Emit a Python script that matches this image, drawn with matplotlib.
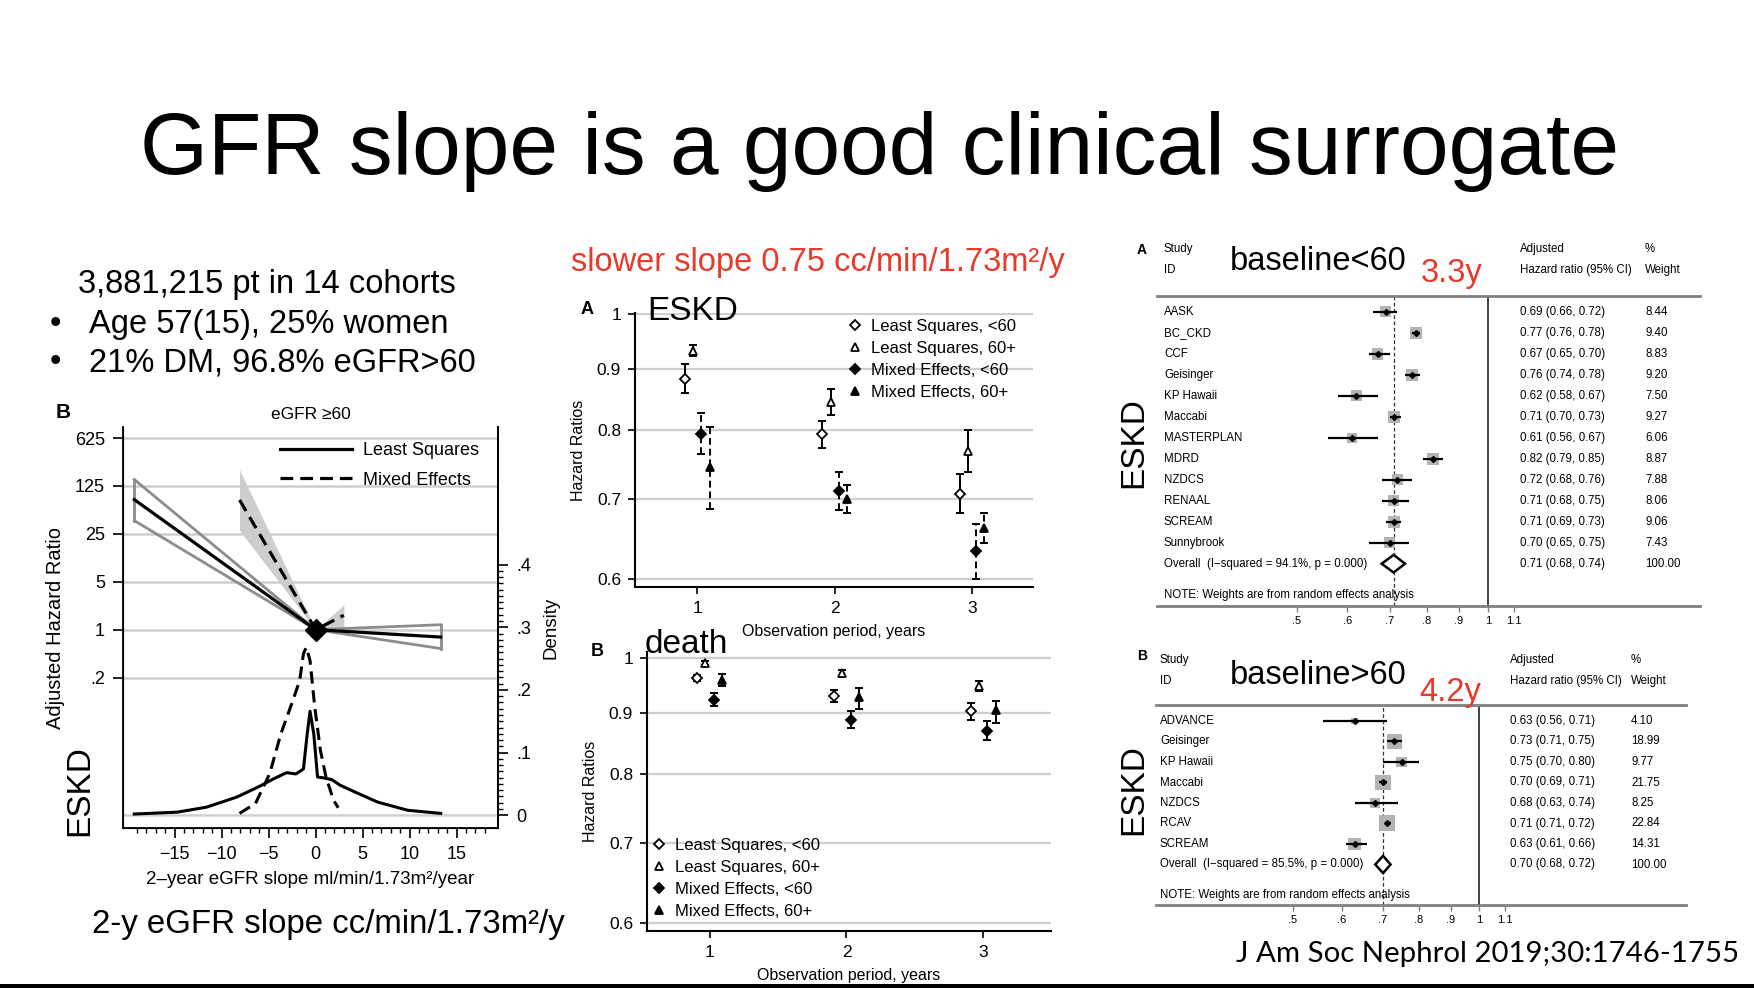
import numpy as np
import matplotlib
matplotlib.use('Agg')
import matplotlib.pyplot as plt
from matplotlib.transforms import blended_transform_factory
from matplotlib.ticker import NullLocator, FixedLocator
from matplotlib.lines import Line2D

plt.rcParams['font.family'] = ['Liberation Sans', 'DejaVu Sans']

W, H = 1754, 988

# ---- left panel: adjusted HR of ESKD by 2-year eGFR slope (eGFR >= 60)
slope_x = [-19.3, 0, 13.3]
ls_hr = [79, 1, 0.78]
ls_lo = [39, 1, 0.53]
ls_hi = [155, 1, 1.18]
me_x = [-8.1, 0, 3.0]
me_hr = [78, 1, 1.62]
me_lo = [28, 1, 1.0]
me_hi = [216, 1, 2.3]
dens_ls_x = [-19.3, -14.7, -11.6, -8.4, -6.0, -4.5, -3.1, -2.1, -1.3, -0.9, -0.6,
             -0.2, 0.2, 0.7, 1.7, 2.6, 4.2, 6.6, 9.8, 13.3]
dens_ls_y = [0.002, 0.005, 0.013, 0.029, 0.046, 0.058, 0.068, 0.066, 0.074, 0.13, 0.166,
             0.13, 0.061, 0.060, 0.057, 0.048, 0.037, 0.021, 0.008, 0.003]
dens_me_x = [-8.1, -6.4, -4.9, -3.7, -2.5, -1.7, -1.3, -1.0, -0.6, -0.1, 0.5, 1.1, 1.9, 2.4]
dens_me_y = [0.003, 0.019, 0.066, 0.13, 0.18, 0.215, 0.258, 0.268, 0.247, 0.173, 0.104,
             0.061, 0.024, 0.012]
hr_ticks = [0.2, 1, 5, 25, 125, 625]
hr_labels = ['.2', '1', '5', '25', '125', '625']
dens_ticks = [0, 0.1, 0.2, 0.3, 0.4]
dens_labels = ['0', '.1', '.2', '.3', '.4']
slope_ticks = [-15, -10, -5, 0, 5, 10, 15]

# ---- middle panels: hazard ratios by observation period
years = np.array([1, 2, 3])
groups = ['Least Squares, <60', 'Least Squares, 60+', 'Mixed Effects, <60', 'Mixed Effects, 60+']
eskd_hr = [[0.883, 0.794, 0.707], [0.932, 0.844, 0.768], [0.794, 0.711, 0.633], [0.745, 0.700, 0.662]]
eskd_lo = [[0.858, 0.773, 0.681], [0.923, 0.823, 0.738], [0.763, 0.685, 0.600], [0.687, 0.681, 0.643]]
eskd_hi = [[0.908, 0.814, 0.734], [0.942, 0.866, 0.800], [0.827, 0.738, 0.667], [0.805, 0.719, 0.681]]
death_hr = [[0.962, 0.929, 0.902], [0.990, 0.971, 0.947], [0.923, 0.888, 0.869], [0.958, 0.928, 0.904]]
death_lo = [[0.956, 0.918, 0.888], [0.987, 0.964, 0.938], [0.911, 0.874, 0.853], [0.947, 0.906, 0.882]]
death_hi = [[0.967, 0.940, 0.917], [0.994, 0.978, 0.956], [0.934, 0.902, 0.885], [0.969, 0.944, 0.920]]
hr_ticks_mid = [0.6, 0.7, 0.8, 0.9, 1]
hr_labels_mid = ['0.6', '0.7', '0.8', '0.9', '1']

# ---- right panels: forest plots
studies_a = ['AASK', 'BC_CKD', 'CCF', 'Geisinger', 'KP Hawaii', 'Maccabi', 'MASTERPLAN',
             'MDRD', 'NZDCS', 'RENAAL', 'SCREAM', 'Sunnybrook']
hr_a = [0.69, 0.77, 0.67, 0.76, 0.62, 0.71, 0.61, 0.82, 0.72, 0.71, 0.71, 0.70]
lo_a = [0.66, 0.76, 0.65, 0.74, 0.58, 0.70, 0.56, 0.79, 0.68, 0.68, 0.69, 0.65]
hi_a = [0.72, 0.78, 0.70, 0.78, 0.67, 0.73, 0.67, 0.85, 0.76, 0.75, 0.73, 0.75]
w_a = [8.44, 9.40, 8.83, 9.20, 7.50, 9.27, 6.06, 8.87, 7.88, 8.06, 9.06, 7.43]
overall_a = [0.71, 0.68, 0.74]
isq_a = 'Overall  (I\u2212squared = 94.1%, p = 0.000)'

studies_b = ['ADVANCE', 'Geisinger', 'KP Hawaii', 'Maccabi', 'NZDCS', 'RCAV', 'SCREAM']
hr_b = [0.63, 0.73, 0.75, 0.70, 0.68, 0.71, 0.63]
lo_b = [0.56, 0.71, 0.70, 0.69, 0.63, 0.71, 0.61]
hi_b = [0.71, 0.75, 0.80, 0.71, 0.74, 0.72, 0.66]
w_b = [4.10, 18.99, 9.77, 21.75, 8.25, 22.84, 14.31]
overall_b = [0.70, 0.68, 0.72]
isq_b = 'Overall  (I\u2212squared = 85.5%, p = 0.000)'
forest_ticks = [0.5, 0.6, 0.7, 0.8, 0.9, 1, 1.1]
forest_labels = ['.5', '.6', '.7', '.8', '.9', '1', '1.1']

RED = '#e8392b'
GRID = '#cfcfcf'

fig = plt.figure(figsize=(W / 100, H / 100), dpi=100)


def px_rect(x0, y0, x1, y1):
    return [x0 / W, 1 - y1 / H, (x1 - x0) / W, (y1 - y0) / H]


def ftxt(x, y, s, **kw):
    kw.setdefault('va', 'center')
    fig.text(x / W, 1 - y / H, s, **kw)


# ---------------- slide texts
ftxt(880, 152, 'GFR slope is a good clinical surrogate', fontsize=63, ha='center')
ftxt(78, 285, '3,881,215 pt in 14 cohorts', fontsize=23.5)
ftxt(50, 324, '\u2022', fontsize=23.5)
ftxt(89, 324, 'Age 57(15), 25% women', fontsize=23.5)
ftxt(50, 363, '\u2022', fontsize=23.5)
ftxt(89, 363, '21% DM, 96.8% eGFR>60', fontsize=23.5)
ftxt(571, 262, 'slower slope 0.75 cc/min/1.73m\u00b2/y', fontsize=23.5, color=RED)
ftxt(92, 924, '2-y eGFR slope cc/min/1.73m\u00b2/y', fontsize=23.8)
ftxt(1236, 954, 'J Am Soc Nephrol 2019;30:1746-1755', fontsize=21.2,
     family=['Lato', 'DejaVu Sans'])
fig.add_artist(plt.Rectangle((0, 0), 1, 4 / H, transform=fig.transFigure,
                             color='black', lw=0))

# ---------------- left panel B
axb = fig.add_axes(px_rect(123, 427, 498, 828))
axb.set_yscale('log')
axb.set_xlim(-20.5, 19.4)
axb.set_ylim(5 ** -4.14, 5 ** 4.23)
for t in hr_ticks:
    axb.axhline(t, color=GRID, lw=1.8, zorder=0)
axb.fill_between(me_x, me_lo, me_hi, color='#cdcdcd', lw=0, zorder=1)
axb.plot(slope_x, ls_hi, color='#8c8c8c', lw=2, zorder=2)
axb.plot(slope_x, ls_lo, color='#8c8c8c', lw=2, zorder=2)
axb.plot([slope_x[0]] * 2, [ls_lo[0], ls_hi[0]], color='#8c8c8c', lw=2, zorder=2)
axb.plot([slope_x[-1]] * 2, [ls_lo[-1], ls_hi[-1]], color='#8c8c8c', lw=2, zorder=2)
l1, = axb.plot(slope_x, ls_hr, color='black', lw=2.3, zorder=3, label='Least Squares')
l2, = axb.plot(me_x, me_hr, color='black', lw=2.3, ls=(0, (4, 2.2)), zorder=3,
               label='Mixed Effects')
axb.plot([0], [1], marker='D', ms=11, color='black', zorder=5)
axb.set_yticks(hr_ticks)
axb.set_yticklabels(hr_labels)
axb.yaxis.set_minor_locator(NullLocator())
axb.set_xticks(slope_ticks)
axb.set_xticklabels([str(v).replace('-', '\u2212') for v in slope_ticks])
axb.xaxis.set_minor_locator(FixedLocator(np.arange(-19, 19)))
axb.spines['top'].set_visible(False)
for s in ['left', 'bottom', 'right']:
    axb.spines[s].set_linewidth(1.3)
axb.tick_params(axis='both', which='major', labelsize=13, length=7, width=1.2, pad=6)
axb.tick_params(axis='x', which='minor', length=3.5, width=1)
axb.set_ylabel('Adjusted Hazard Ratio', fontsize=14.5, labelpad=7)
axb.set_xlabel('2\u2013year eGFR slope ml/min/1.73m\u00b2/year', fontsize=13.5, labelpad=6)
axb.set_title('eGFR \u226560', fontsize=12.5, pad=6)
axb.legend(handles=[l1, l2], loc='upper left', bbox_to_anchor=(280 / W, 1 - 442 / H),
           bbox_transform=fig.transFigure, frameon=False, fontsize=13,
           handlelength=4.0, handletextpad=0.6, labelspacing=0.7,
           borderpad=0, borderaxespad=0)

axd = axb.twinx()
axd.set_ylim(-0.0203, 0.6196)
axd.axhline(0, color=GRID, lw=1.8, zorder=0)
axd.plot(dens_ls_x, dens_ls_y, color='black', lw=2.2)
axd.plot(dens_me_x, dens_me_y, color='black', lw=2.2, ls=(0, (4, 2.2)))
axd.set_yticks(dens_ticks)
axd.set_yticklabels(dens_labels)
axd.yaxis.set_minor_locator(FixedLocator(np.arange(0, 0.41, 0.01)))
axd.spines['top'].set_visible(False)
axd.spines['right'].set_linewidth(1.3)
axd.tick_params(axis='y', which='major', labelsize=13, length=7, width=1.2, pad=6)
axd.tick_params(axis='y', which='minor', length=3.5, width=1)
axd.set_ylabel('Density', fontsize=13.5, labelpad=8)

ftxt(63, 413, 'B', fontsize=15, fontweight='bold', ha='center')
ftxt(80, 791, 'ESKD', fontsize=24, rotation=90, ha='center')

# ---------------- middle panels
offsets = [-0.09, -0.03, 0.03, 0.09]
markers = ['D', '^', 'D', '^']
filled = [False, False, True, True]
msizes = [5, 6, 5.5, 6]


def hr_panel(rect, ylim, xlim, hr, lo, hi, dash_me, leg_xy):
    ax = fig.add_axes(rect)
    ax.set_yscale('log')
    ax.set_ylim(*ylim)
    ax.set_xlim(*xlim)
    for t in hr_ticks_mid:
        ax.axhline(t, color=GRID, lw=1.6, zorder=0)
    handles = []
    for g in range(4):
        x = years + offsets[g]
        y = np.array(hr[g])
        err = [y - np.array(lo[g]), np.array(hi[g]) - y]
        eb = ax.errorbar(x, y, yerr=err, fmt='none', ecolor='black', elinewidth=1.4,
                         capsize=2.6, capthick=1.4, zorder=2)
        if dash_me and g >= 2:
            eb[2][0].set_linestyle((0, (3.5, 2)))
        fc = 'black' if filled[g] else 'white'
        ax.plot(x, y, ls='none', marker=markers[g], ms=msizes[g], mfc=fc, mec='black',
                mew=1.3, zorder=3)
        handles.append(Line2D([], [], ls='none', marker=markers[g], ms=msizes[g], mfc=fc,
                              mec='black', mew=1.3, label=groups[g]))
    ax.set_yticks(hr_ticks_mid)
    ax.set_yticklabels(hr_labels_mid)
    ax.yaxis.set_minor_locator(NullLocator())
    ax.set_xticks(years)
    ax.spines['top'].set_visible(False)
    ax.spines['right'].set_visible(False)
    for s in ['left', 'bottom']:
        ax.spines[s].set_linewidth(1.5)
    ax.tick_params(axis='both', labelsize=12.5, length=5, width=1.2, pad=5)
    ax.set_ylabel('Hazard Ratios', fontsize=11.5, labelpad=8)
    ax.set_xlabel('Observation period, years', fontsize=11.5, labelpad=6)
    ax.legend(handles=handles, loc='upper left', bbox_to_anchor=(leg_xy[0] / W, 1 - leg_xy[1] / H),
              bbox_transform=fig.transFigure, frameon=False, fontsize=12,
              handlelength=1.0, handletextpad=0.45, labelspacing=0.42,
              borderpad=0, borderaxespad=0)
    return ax


hr_panel(px_rect(635, 313, 1033, 587), (0.5908, 1.0019), (0.546, 3.444),
         eskd_hr, eskd_lo, eskd_hi, True, (847, 319))
hr_panel(px_rect(647, 652, 1051, 931), (0.5908, 1.0116), (0.543, 3.494),
         death_hr, death_lo, death_hi, False, (651, 838))
ftxt(587, 310, 'A', fontsize=13, fontweight='bold', ha='center')
ftxt(647, 311, 'ESKD', fontsize=24)
ftxt(597, 652, 'B', fontsize=13, fontweight='bold', ha='center')
ftxt(645, 644, 'death', fontsize=24)


# ---------------- forest plots
def forest(x0, x1, y0, y1, x_one, k, row0, step, names, hr, lo, hi, w, ov, ov_label,
           x_name, x_hr, x_w, max_side):
    ax = fig.add_axes(px_rect(x0, y0, x1, y1))
    ax.set_xscale('log')
    ax.set_xlim(np.exp((x0 - x_one) / k), np.exp((x1 - x_one) / k))
    ax.set_ylim(y1, y0)
    n = len(names)
    rows = row0 + step * np.arange(n)
    r_ov = row0 + step * n
    tr = blended_transform_factory(fig.transFigure, ax.transData)
    ax.axvline(1, color='#333333', lw=1.3, zorder=1)
    ax.axvline(ov[0], color='#333333', lw=0.9, ls=(0, (3, 2)), zorder=1)
    side = max_side * np.sqrt(np.array(w) / max(w))
    ax.scatter(hr, rows, marker='s', s=(side * 0.72) ** 2, color='#b3b3b3', lw=0, zorder=2)
    ax.hlines(rows, lo, hi, color='black', lw=1.6, zorder=3)
    ax.plot(hr, rows, ls='none', marker='D', ms=3, color='black', zorder=4)
    hh = step * 0.42
    ax.fill([ov[1], ov[0], ov[2], ov[0]], [r_ov, r_ov - hh, r_ov, r_ov + hh],
            facecolor='white', edgecolor='black', lw=1.8, zorder=4)
    for i in range(n):
        ax.text(x_name / W, rows[i], names[i], transform=tr, fontsize=8.3, va='center')
        ax.text(x_hr / W, rows[i], '%.2f (%.2f, %.2f)' % (hr[i], lo[i], hi[i]),
                transform=tr, fontsize=8.3, va='center')
        ax.text(x_w / W, rows[i], '%.2f' % w[i], transform=tr, fontsize=8.3, va='center')
    ax.text(x_name / W, r_ov, ov_label, transform=tr, fontsize=8.3, va='center')
    ax.text(x_hr / W, r_ov, '%.2f (%.2f, %.2f)' % (ov[0], ov[1], ov[2]), transform=tr,
            fontsize=8.3, va='center')
    ax.text(x_w / W, r_ov, '100.00', transform=tr, fontsize=8.3, va='center')
    ax.text(x_name / W, r_ov + step * 1.5, 'NOTE: Weights are from random effects analysis',
            transform=tr, fontsize=8.3, va='center')
    ax.set_xticks(forest_ticks)
    ax.set_xticklabels(forest_labels)
    ax.xaxis.set_minor_locator(NullLocator())
    ax.set_yticks([])
    for s in ['left', 'right']:
        ax.spines[s].set_visible(False)
    for s in ['top', 'bottom']:
        ax.spines[s].set_color('#808080')
        ax.spines[s].set_linewidth(2)
    ax.tick_params(axis='x', labelsize=8, length=4, width=1, color='#808080', pad=3)
    ax.patch.set_alpha(0)
    return ax


forest(1157, 1700, 296, 606, 1488, 275.6, 311.7, 21, studies_a, hr_a, lo_a, hi_a, w_a,
       overall_a, isq_a, 1164, 1520, 1645, 12)
ftxt(1142, 250, 'A', fontsize=10, fontweight='bold', ha='center')
ftxt(1164, 249, 'Study', fontsize=8.3)
ftxt(1164, 270, 'ID', fontsize=8.3)
ftxt(1520, 249, 'Adjusted', fontsize=8.3)
ftxt(1520, 270, 'Hazard ratio (95% CI)', fontsize=8.3)
ftxt(1645, 249, '%', fontsize=8.3)
ftxt(1645, 270, 'Weight', fontsize=8.3)
ftxt(1230, 261, 'baseline<60', fontsize=23.5)
ftxt(1421, 273, '3.3y', fontsize=23.5, color=RED)
ftxt(1134, 443, 'ESKD', fontsize=24, rotation=90, ha='center')

forest(1156, 1686, 705, 905, 1479, 269, 721, 20.5, studies_b, hr_b, lo_b, hi_b, w_b,
       overall_b, isq_b, 1160, 1510, 1631, 16)
ftxt(1142, 656, 'B', fontsize=10, fontweight='bold', ha='center')
ftxt(1160, 660, 'Study', fontsize=8.3)
ftxt(1160, 681, 'ID', fontsize=8.3)
ftxt(1510, 660, 'Adjusted', fontsize=8.3)
ftxt(1510, 681, 'Hazard ratio (95% CI)', fontsize=8.3)
ftxt(1631, 660, '%', fontsize=8.3)
ftxt(1631, 681, 'Weight', fontsize=8.3)
ftxt(1230, 675, 'baseline>60', fontsize=23.5)
ftxt(1419, 693, '4.2y', fontsize=23.5, color=RED)
ftxt(1134, 790, 'ESKD', fontsize=24, rotation=90, ha='center')

fig.savefig('out.png', dpi=100)
plt.close(fig)
